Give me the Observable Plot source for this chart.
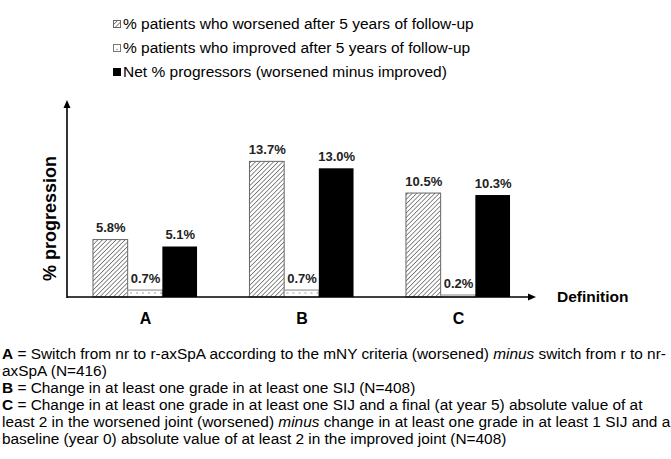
<!DOCTYPE html>
<html><head><meta charset="utf-8">
<script src="https://cdn.jsdelivr.net/npm/d3@7"></script>
<script src="https://cdn.jsdelivr.net/npm/@observablehq/plot@0.6"></script>
<style>
body{margin:0;background:#fff;font-family:"Liberation Sans",Arial,sans-serif;color:#000;width:671px;overflow:hidden;}
#legend{height:85px;box-sizing:border-box;padding-top:12px;padding-left:113px;font-size:15.5px;}
.row{height:24px;line-height:24px;display:flex;align-items:center;white-space:nowrap;}
.row svg{margin-right:2px;flex:none;}
#chart svg{display:block}
#caption{padding-top:5px;padding-left:2px;font-size:15.4px;line-height:17px;white-space:nowrap;}
</style></head><body>
<svg width="0" height="0" style="position:absolute">
  <defs>
    <pattern id="hatch" patternUnits="userSpaceOnUse" width="3.2" height="3.2" patternTransform="rotate(45)">
      <rect width="3.2" height="3.2" fill="#fff"/>
      <line x1="0" y1="0" x2="0" y2="3.2" stroke="#505050" stroke-width="1.3"/>
    </pattern>
    <pattern id="dots" patternUnits="userSpaceOnUse" width="6" height="6">
      <rect width="6" height="6" fill="#fff"/>
      <circle cx="3" cy="4" r="0.7" fill="#777"/>
    </pattern>
  </defs>
</svg>
<div id="legend"></div>
<div id="chart"></div>
<div id="caption"></div>
<script>
// ---- data ----
const categories = ["A", "B", "C"];
const seriesKeys = ["worsened", "improved", "net"];
const seriesLabels = [
  "% patients who worsened after 5 years of follow-up",
  "% patients who improved after 5 years of follow-up",
  "Net % progressors (worsened minus improved)"
];
const worsened = [5.8, 13.7, 10.5];
const improved = [0.7, 0.7, 0.2];
const net = [5.1, 13.0, 10.3];
const yLabel = "% progression";
const xLabel = "Definition";
const captionLines = [
  [["A", "b"], [" = Switch from nr to r-axSpA according to the mNY criteria (worsened) "], ["minus", "i"], [" switch from r to nr-"]],
  [["axSpA (N=416)"]],
  [["B", "b"], [" = Change in at least one grade in at least one SIJ (N=408)"]],
  [["C", "b"], [" = Change in at least one grade in at least one SIJ and a final (at year 5) absolute value of at"]],
  [["least 2 in the worsened joint (worsened) "], ["minus", "i"], [" change in at least one grade in at least 1 SIJ and a"]],
  [["baseline (year 0) absolute value of at least 2 in the improved joint (N=408)"]]
];

const values = {worsened, improved, net};
const rows = categories.flatMap((c, i) => seriesKeys.map(s => ({cat: c, series: s, value: values[s][i]})));

// ---- legend ----
const swatch = {
  worsened: '<svg width="8" height="8"><rect x="0.5" y="0.5" width="7" height="7" fill="url(#hatch)" stroke="#666"/></svg>',
  improved: '<svg width="8" height="8"><rect x="0.5" y="0.5" width="7" height="7" fill="#fff" stroke="#777"/><circle cx="4" cy="5.5" r="0.7" fill="#777"/></svg>',
  net: '<svg width="8" height="8"><rect width="8" height="8" fill="#000"/></svg>'
};
const legend = document.getElementById("legend");
seriesKeys.forEach((k, i) => {
  const r = document.createElement("div");
  r.className = "row";
  r.innerHTML = swatch[k] + "<span>" + seriesLabels[i] + "</span>";
  legend.appendChild(r);
});

// ---- chart ----
const W = 671, H = 255, ML = 67, MR = 135, MT = 14, MB = 43;
const font = '"Liberation Sans", Arial, sans-serif';
const plot = Plot.plot({
  width: W, height: H,
  marginLeft: ML, marginRight: MR, marginTop: MT, marginBottom: MB,
  style: {fontFamily: font, fontSize: "13px", color: "#000", background: "#fff"},
  fx: {domain: categories, paddingInner: 0.335, paddingOuter: 0.166, round: false, label: null, axis: null},
  x: {domain: seriesKeys, padding: 0, round: false, axis: null},
  y: {domain: [0, 20], axis: null},
  marks: [
    Plot.barY(rows.filter(d => d.series === "worsened"), {fx: "cat", x: "series", y: "value", fill: "url(#hatch)", stroke: "#666", strokeWidth: 1}),
    Plot.barY(rows.filter(d => d.series === "improved"), {fx: "cat", x: "series", y: "value", fill: "url(#dots)", stroke: "#999", strokeWidth: 1.2}),
    Plot.barY(rows.filter(d => d.series === "net"), {fx: "cat", x: "series", y: "value", fill: "#000"}),
    Plot.text(rows, {fx: "cat", x: "series", y: "value", text: d => d.value.toFixed(1) + "%", dy: -12, fontWeight: "bold", fontSize: 13, fill: "#222"}),
    Plot.axisFx({anchor: "bottom", label: null, tickSize: 0, tickPadding: 15, fontSize: 16, fontWeight: "bold"})
  ]
});
document.getElementById("chart").appendChild(plot);

// axis lines with arrows, axis titles
const svg = d3.select(plot);
const ys = plot.scale("y");
const y0 = ys.apply(0), yTop = ys.apply(20) + 1;
const x0 = ML, xEnd = W - MR;
const g = svg.append("g");
g.append("line").attr("x1", x0).attr("x2", x0).attr("y1", y0 + 1).attr("y2", yTop + 6).attr("stroke", "#000").attr("stroke-width", 1.6);
g.append("path").attr("d", `M${x0 - 3.5},${yTop + 8}L${x0},${yTop}L${x0 + 3.5},${yTop + 8}Z`).attr("fill", "#000");
g.append("line").attr("x1", x0).attr("x2", xEnd - 6).attr("y1", y0).attr("y2", y0).attr("stroke", "#000").attr("stroke-width", 1.6);
g.append("path").attr("d", `M${xEnd - 8},${y0 - 3.5}L${xEnd},${y0}L${xEnd - 8},${y0 + 3.5}Z`).attr("fill", "#000");
g.append("text").text(xLabel).attr("x", xEnd + 21).attr("y", y0).attr("dy", "0.35em")
  .attr("text-anchor", "start")
  .attr("font-weight", "bold").attr("font-size", 15.5).attr("font-family", font);
g.append("text").text(yLabel).attr("transform", `translate(50,${(y0 + yTop) / 2 + 20}) rotate(-90)`)
  .attr("text-anchor", "middle").attr("dy", "0.35em")
  .attr("font-weight", "bold").attr("font-size", 18).attr("font-family", font);

// ---- caption ----
const cap = document.getElementById("caption");
captionLines.forEach(line => {
  const div = document.createElement("div");
  line.forEach(([t, s]) => {
    const el = document.createElement(s === "b" ? "b" : s === "i" ? "i" : "span");
    el.textContent = t;
    div.appendChild(el);
  });
  cap.appendChild(div);
});
</script>
</body></html>
